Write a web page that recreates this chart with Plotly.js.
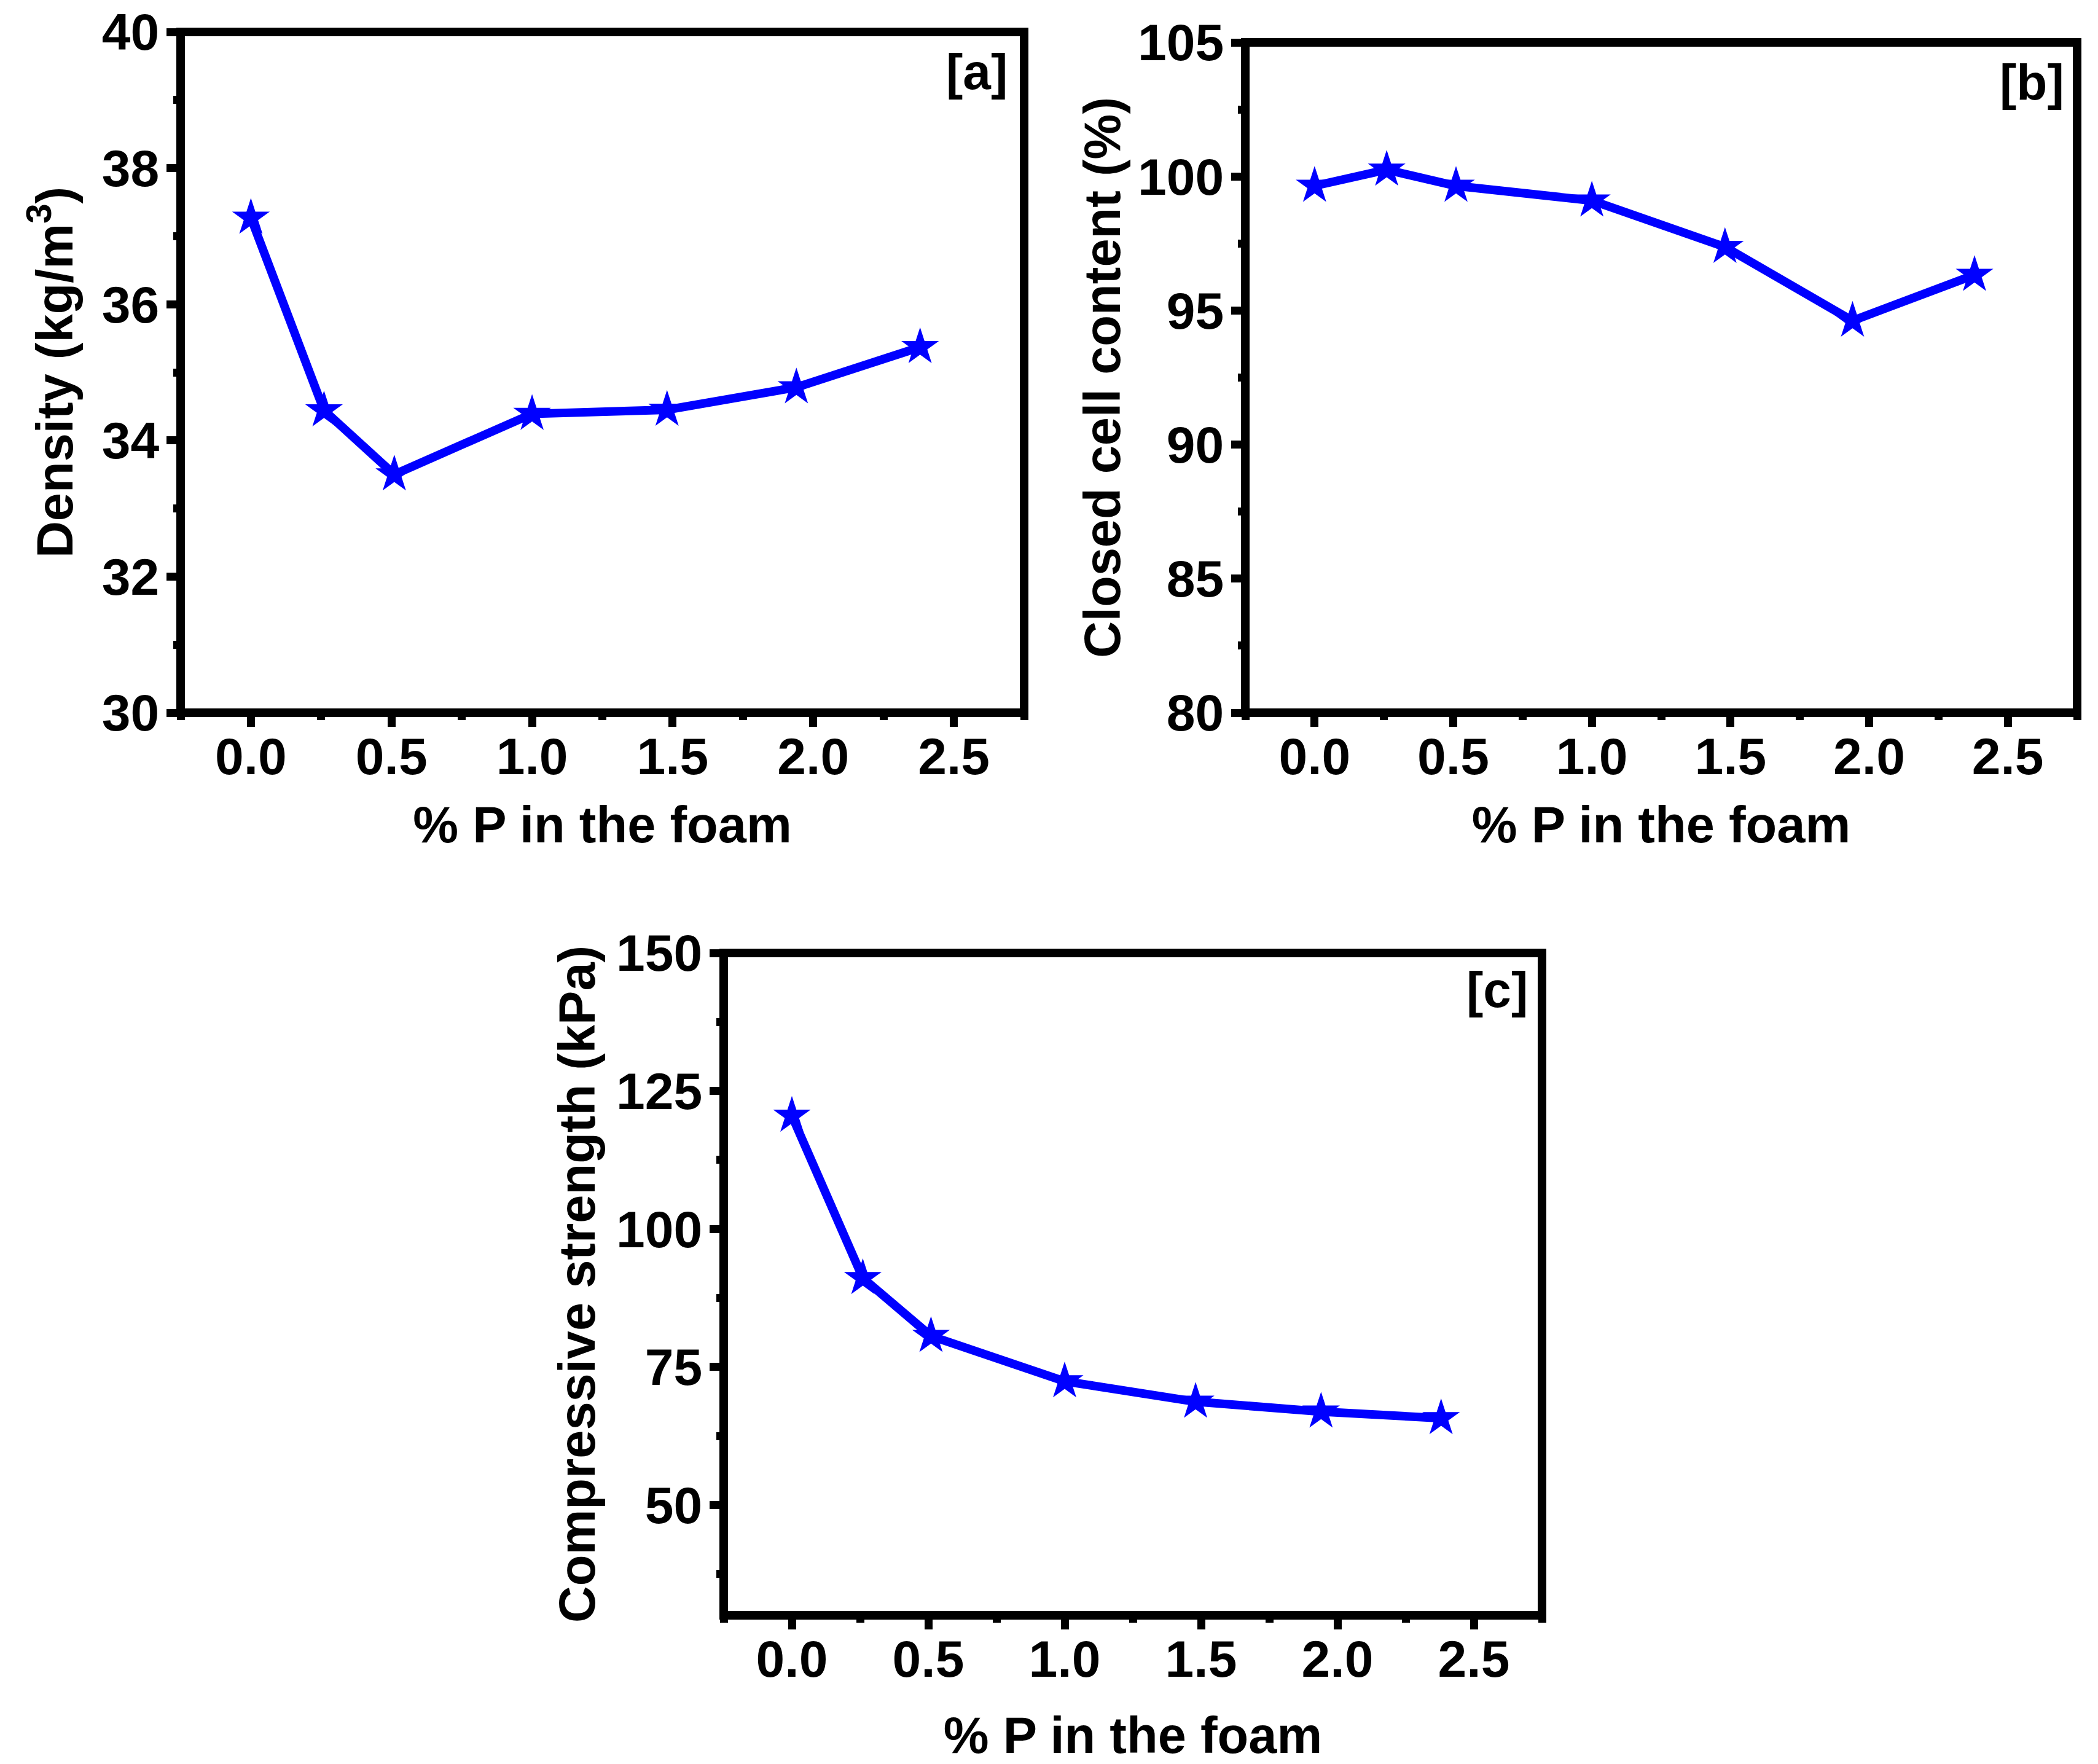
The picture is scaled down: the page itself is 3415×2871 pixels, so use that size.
<!DOCTYPE html>
<html>
<head>
<meta charset="utf-8">
<script src="https://cdn.plot.ly/plotly-3.0.1.min.js"></script>
<style>
  body { margin: 0; background: #fff; }
  #chart { width: 3415px; height: 2871px; }
</style>
</head>
<body>
<div id="chart"></div>
<script>
// % P in the foam (same for all three panels)
const phosphorus = [0, 0.26, 0.51, 1.0, 1.48, 1.94, 2.38];

// [a] density, kg/m3
const density = [37.27, 34.44, 33.50, 34.39, 34.45, 34.78, 35.37];
// [b] closed cell content, %
const closedCell = [99.65, 100.25, 99.65, 99.10, 97.37, 94.62, 96.33];
// [c] compressive strength, kPa
const compressive = [120.5, 91.1, 80.6, 72.4, 68.7, 66.9, 65.7];

const panelLabels = ['[a]', '[b]', '[c]'];
const xTitle = '% P in the foam';
const yTitles = ['Density (kg/m<sup>3</sup>)', 'Closed cell content (%)', 'Compressive strength (kPa)'];

const W = 3415, H = 2871;
const FONT = 'Liberation Sans, Arial, sans-serif';
const BLUE = '#0000ff';

// frame line centres in pixels: [left, right, top, bottom]
const boxes = [
  [294, 1667, 52, 1160],
  [2027, 3381, 69, 1160],
  [1178, 2510, 1551, 2629]
];

function trace(y, i) {
  const s = i === 0 ? '' : String(i + 1);
  return {
    x: phosphorus, y: y, xaxis: 'x' + s, yaxis: 'y' + s,
    type: 'scatter', mode: 'lines+markers',
    line: {color: BLUE, width: 14},
    marker: {symbol: 'star', size: 46, color: BLUE, line: {width: 0}},
    cliponaxis: false
  };
}

function xAxis(box, anchor, standoff) {
  return {
    domain: [box[0] / W, box[1] / W], anchor: anchor,
    range: [-0.25, 2.75], tick0: 0, dtick: 0.5, tickformat: '.1f',
    ticks: 'outside', ticklen: 22, tickwidth: 13, tickcolor: '#000',
    minor: {dtick: 0.25, tick0: 0, ticks: 'outside', ticklen: 11, tickwidth: 13, tickcolor: '#000'},
    showline: false, showgrid: false, zeroline: false, automargin: false,
    ticklabelstandoff: -24,
    tickfont: {family: FONT, size: 84, color: '#000', weight: 'bold'},
    title: {text: xTitle, standoff: standoff, font: {family: FONT, size: 83, color: '#000', weight: 'bold'}}
  };
}

function yAxis(box, anchor, range, dtick, minor, title, standoff) {
  return {
    domain: [1 - box[3] / H, 1 - box[2] / H], anchor: anchor,
    range: range, tick0: 0, dtick: dtick,
    ticks: 'outside', ticklen: 22, tickwidth: 13, tickcolor: '#000',
    minor: {dtick: minor, tick0: 0, ticks: 'outside', ticklen: 11, tickwidth: 13, tickcolor: '#000'},
    showline: false, showgrid: false, zeroline: false, automargin: false,
    ticklabelstandoff: -5,
    tickfont: {family: FONT, size: 84, color: '#000', weight: 'bold'},
    title: {text: title, standoff: standoff, font: {family: FONT, size: 83, color: '#000', weight: 'bold'}}
  };
}

const data = [trace(density, 0), trace(closedCell, 1), trace(compressive, 2)];

const frames = ['', '2', '3'].map(s => ({
  type: 'rect', xref: 'x' + s + ' domain', yref: 'y' + s + ' domain',
  x0: 0, x1: 1, y0: 0, y1: 1, layer: 'above',
  line: {color: '#000', width: 14}
}));

const labelPos = [[0.982, 0.942], [0.986, 0.941], [0.984, 0.945]];
const labels = ['', '2', '3'].map((s, i) => ({
  xref: 'x' + s + ' domain', yref: 'y' + s + ' domain',
  x: labelPos[i][0], y: labelPos[i][1], xanchor: 'right', yanchor: 'middle',
  text: panelLabels[i], showarrow: false,
  font: {family: FONT, size: 82, color: '#000', weight: 'bold'}
}));

const layout = {
  width: W, height: H,
  margin: {l: 0, r: 0, t: 0, b: 0},
  paper_bgcolor: '#fff', plot_bgcolor: '#fff',
  showlegend: false,
  xaxis: xAxis(boxes[0], 'y', 36),
  yaxis: yAxis(boxes[0], 'x', [30, 40], 2, 1, yTitles[0], 19),
  xaxis2: xAxis(boxes[1], 'y2', 36),
  yaxis2: yAxis(boxes[1], 'x2', [80, 105], 5, 2.5, yTitles[1], 0),
  xaxis3: xAxis(boxes[2], 'y3', 67),
  yaxis3: yAxis(boxes[2], 'x3', [30, 150], 25, 12.5, yTitles[2], 6),
  shapes: frames,
  annotations: labels
};

Plotly.newPlot('chart', data, layout, {staticPlot: true});
</script>
</body>
</html>
